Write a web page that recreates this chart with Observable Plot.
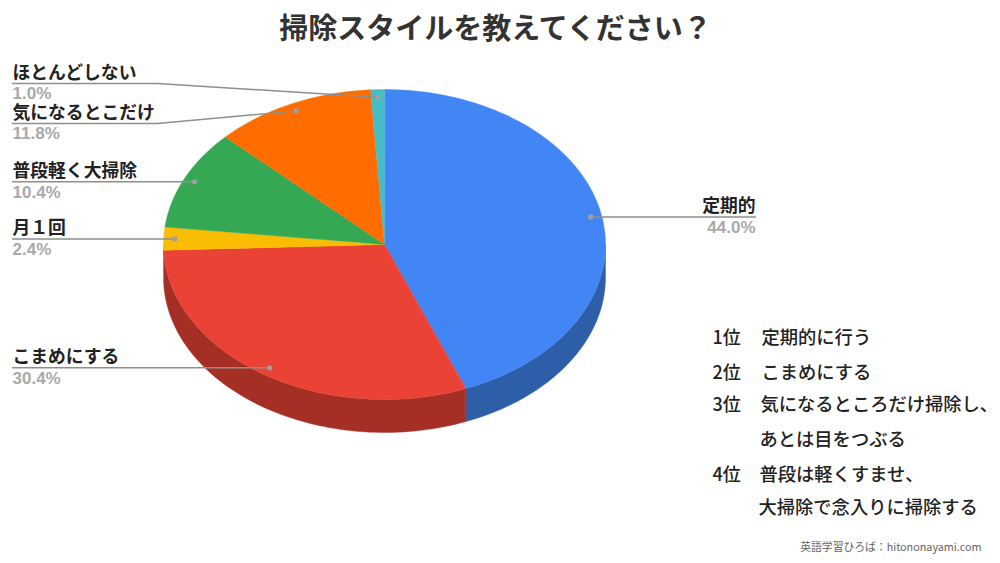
<!DOCTYPE html>
<html lang="ja">
<head>
<meta charset="utf-8">
<script src="https://cdn.jsdelivr.net/npm/d3@7"></script>
<script src="https://cdn.jsdelivr.net/npm/@observablehq/plot@0.6"></script>
<style>
html,body{margin:0;padding:0;background:#fff;}
svg{display:block;}
</style>
</head>
<body>
<div id="chart"></div>
<script>
const categories = ["定期的","こまめにする","月１回","普段軽く大掃除","気になるとこだけ","ほとんどしない"];
const shares = [44.0,30.4,2.4,10.4,11.8,1.0];
const topColors = ["#4285f4","#ea4335","#fbbc04","#34a853","#ff6d01","#46bdc6"];
const wallColors = ["#2f5ea8","#a52f25","#b08403","#247539","#b34c01","#31848b"];
const rankLabels = ["1位","2位","3位","","4位",""];
const rankTexts = ["定期的に行う","こまめにする","気になるところだけ掃除し、","あとは目をつぶる","普段は軽くすませ、","大掃除で念入りに掃除する"];
const rankRows = [338,373,405,440,475,508];
const rankTextX = [761,761,760,759,759,758];
const titleText = "掃除スタイルを教えてください？";
const creditText = "英語学習ひろば：hitononayami.com";

const FONT = "'Noto Sans CJK JP','Noto Sans',sans-serif";
const cx=384, cy=244, rx=221, ry=155, depth=33, dotR=0.95, left=12, right=755;
const elbowX = 157;

const pt = (deg,r=1,dy=0)=>{const a=deg*Math.PI/180; return {x:cx+rx*r*Math.sin(a), y:cy-ry*r*Math.cos(a)+dy};};
const arc = (a0,a1,dy=0)=>{const n=Math.max(2,Math.ceil(Math.abs(a1-a0)/1.5)); return d3.range(n+1).map(i=>pt(a0+(a1-a0)*i/n,1,dy));};

let acc=0;
const slices = categories.map((name,i)=>{
  const a0=acc*3.6; acc+=shares[i]; const a1=acc*3.6;
  return {name,i,a0,a1,mid:(a0+a1)/2,share:shares[i],top:topColors[i],wall:wallColors[i]};
});

const marks=[];
// side walls (only the front half, 90°–270°, is visible)
for(const s of slices){
  const a=Math.max(s.a0,90), b=Math.min(s.a1,270);
  if(b>a) marks.push(Plot.line([...arc(a,b,0),...arc(b,a,depth)],{x:"x",y:"y",fill:s.wall,stroke:s.wall,strokeWidth:0.4,curve:"linear-closed"}));
}
// top faces
for(const s of slices){
  marks.push(Plot.line([{x:cx,y:cy},...arc(s.a0,s.a1)],{x:"x",y:"y",fill:s.top,stroke:s.top,strokeWidth:0.4,curve:"linear-closed"}));
}
// leader lines
const dots=slices.map(s=>({...pt(s.mid,dotR),...s}));
const labelRow=new Map(); 
const leaders=dots.flatMap(d=>{
  if(d.mid<180) return [{n:d.name,x:d.x,y:d.y},{n:d.name,x:right,y:d.y}];
  const tilted={"気になるとこだけ":123,"ほとんどしない":83}[d.name];
  const row=tilted??d.y; labelRow.set(d.name,row);
  return [{n:d.name,x:d.x,y:d.y},{n:d.name,x:elbowX,y:row},{n:d.name,x:left,y:row}];
});
marks.push(Plot.line(leaders,{x:"x",y:"y",z:"n",stroke:"#8f8f8f",strokeWidth:1.5}));
marks.push(Plot.dot(dots,{x:"x",y:"y",r:2.6,fill:"#a0a0a0",stroke:"none"}));
// labels
const labelData=dots.map(d=>{
  const right_=d.mid<180; const row=right_?d.y:labelRow.get(d.name);
  return {name:d.name,pct:d.share.toFixed(1)+"%",row,x:right_?right:left,anchor:right_?"end":"start"};
});
for(const anchor of ["start","end"]){
  const rows=labelData.filter(d=>d.anchor===anchor);
  marks.push(Plot.text(rows,{x:"x",y:d=>d.row-10.5,text:"name",textAnchor:anchor,lineAnchor:"middle",fontFamily:FONT,fontWeight:700,fontSize:17.8,fill:"#222222"}));
  marks.push(Plot.text(rows,{x:"x",y:d=>d.row+10.5,text:"pct",textAnchor:anchor,lineAnchor:"middle",fontFamily:"'Liberation Sans',sans-serif",fontWeight:700,fontSize:17,fill:"#a9a9a9"}));
}
// title
marks.push(Plot.text([titleText],{x:()=>495,y:()=>29,text:d=>d,textAnchor:"middle",lineAnchor:"middle",fontFamily:FONT,fontWeight:700,fontSize:29,fill:"#333333"}));
// ranking
const rankData=rankTexts.map((t,i)=>({t,r:rankLabels[i],y:rankRows[i],x:rankTextX[i]}));
marks.push(Plot.text(rankData.filter(d=>d.r),{x:()=>712,y:"y",text:"r",textAnchor:"start",lineAnchor:"middle",fontFamily:FONT,fontWeight:500,fontSize:18,fill:"#222222"}));
marks.push(Plot.text(rankData,{x:"x",y:"y",text:"t",textAnchor:"start",lineAnchor:"middle",fontFamily:FONT,fontWeight:500,fontSize:18.3,fill:"#222222"}));
// credit
marks.push(Plot.text([creditText],{x:()=>981,y:()=>547,text:d=>d,textAnchor:"end",lineAnchor:"middle",fontFamily:FONT,fontSize:10.8,fill:"#666666"}));

const chart=Plot.plot({
  width:1000,height:563,margin:0,
  x:{axis:null,domain:[0,1000],range:[0,1000]},
  y:{axis:null,domain:[0,563],range:[0,563]},
  style:{background:"#fff"},
  marks
});
document.getElementById("chart").append(chart);
</script>
</body>
</html>
